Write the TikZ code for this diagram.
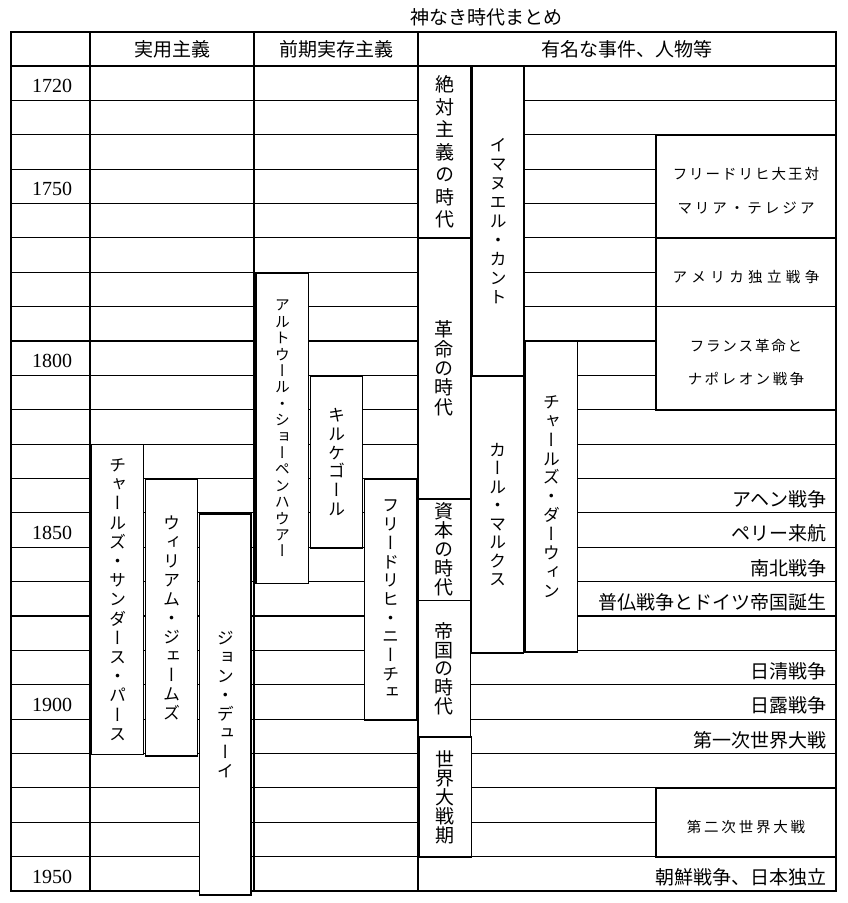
\documentclass[tikz,border=0pt]{standalone}
\usepackage{fontspec}
\newfontfamily\jp{Noto Sans CJK JP}
\newfontfamily\jpv[RawFeature=+vert]{Noto Sans CJK JP}
\newfontfamily\yrfont{Liberation Serif}
\makeatletter
% vertical stack of characters: #1 pitch (pt), #2 characters
\newcommand\vt[2]{\vbox{\baselineskip=#1pt\relax\lineskiplimit=-100pt\lineskip=0pt
  \@tfor\vc:=#2\do{\hbox to 1.2em{\hss\vc\hss}}}}
% letter-spaced horizontal text, lowered a little: #1 extra space (pt), #2 characters
\newcommand\ls[2]{\raisebox{-4.5pt}[\height][\depth]{\@tfor\lc:=#2\do{\lc\kern#1pt}\kern-#1pt}}
\makeatother
% box: name, x1, y1, x2, y2, font, content
\newcommand\vb[7]{\node[pbox, font={#6}, minimum width={(#4-#2)*1pt}, minimum height={(#5-#3)*1pt}] (#1) at ({(#2+#4)/2},{(#3+#5)/2}) {#7};}
\begin{document}
\begin{tikzpicture}[x=1pt,y=-1pt,
  gridline/.style={line width=1.2pt},
  pbox/.style={draw, fill=white, line width=1.2pt, inner sep=0pt, anchor=center, align=center},
  head/.style={font=\jp\fontsize{19}{19}\selectfont, inner sep=0pt},
  yearlbl/.style={font=\yrfont\fontsize{20}{20}\selectfont, inner sep=0pt},
  evt/.style={font=\jp\fontsize{19}{19}\selectfont, inner sep=0pt, anchor=east}]
\useasboundingbox (0,0) rectangle (847,903);
% title
\node[head] (title) at (486,17) {神なき時代まとめ};
% table frame and grid
\draw[gridline] (11,32) rectangle (836,891);
\foreach \k in {0,...,23} {\draw[gridline] (11,{66+34.375*\k}) -- (836,{66+34.375*\k});}
\foreach \xx in {90,254,418} {\draw[gridline] (\xx,32) -- (\xx,891);}
% header
\node[head] (h1) at (172,49.5) {実用主義};
\node[head] (h2) at (336,49.5) {前期実存主義};
\node[head] (h3) at (627,49.5) {有名な事件、人物等};
% years
\foreach \k/\yr in {0/1720,3/1750,8/1800,13/1850,18/1900,23/1950}
  {\node[yearlbl] (y\yr) at (52,{66+34.375*(\k+0.5)+3}) {\yr};}
% row events
\node[evt] (e1840) at (827,{66+34.375*12.5+3.5}) {アヘン戦争};
\node[evt] (e1850) at (827,{66+34.375*13.5+3.5}) {ペリー来航};
\node[evt] (e1860) at (827,{66+34.375*14.5+3.5}) {南北戦争};
\node[evt] (e1870) at (827,{66+34.375*15.5+3.5}) {普仏戦争とドイツ帝国誕生};
\node[evt] (e1890) at (827,{66+34.375*17.5+3.5}) {日清戦争};
\node[evt] (e1900) at (827,{66+34.375*18.5+3.5}) {日露戦争};
\node[evt] (e1910) at (827,{66+34.375*19.5+3.5}) {第一次世界大戦};
\node[evt] (e1950) at (827,{66+34.375*23.5+3.5}) {朝鮮戦争、日本独立};
% pragmatism
\vb{pierce}{91.5}{444.5}{143.5}{754.5}{\jpv\fontsize{17}{19}\selectfont}{\vt{19.2}{チャールズ・サンダース・パース}}
\vb{james}{145.5}{479}{197.5}{756}{\jpv\fontsize{17}{19}\selectfont}{\vt{19}{ウィリアム・ジェームズ}}
\vb{dewey}{199.5}{514}{251}{895}{\jpv\fontsize{17}{19}\selectfont}{\vt{19}{ジョン・デューイ}}
% early existentialism
\vb{schop}{256}{273.5}{308.5}{583.5}{\jpv\fontsize{15}{16}\selectfont}{\vt{16.4}{アルトウール・ショーペンハウアー}}
\vb{kierk}{310.5}{376}{362.5}{548}{\jpv\fontsize{17}{19}\selectfont}{\vt{18.8}{キルケゴール}}
\vb{nietz}{364.5}{479}{416.5}{720}{\jpv\fontsize{17}{19}\selectfont}{\vt{18.7}{フリードリヒ・ニーチェ}}
% periods
\vb{absol}{418.5}{66.5}{471}{238}{\jpv\fontsize{19}{19}\selectfont}{\vt{22.5}{絶対主義の時代}}
\vb{revol}{418}{238}{470.5}{498.5}{\jpv\fontsize{19}{19}\selectfont}{\vt{19.4}{革命の時代}}
\vb{capit}{418}{499}{470.5}{600.5}{\jpv\fontsize{19}{19}\selectfont}{\vt{19}{資本の時代}}
\vb{empir}{418}{600.5}{470.5}{737}{\jpv\fontsize{19}{19}\selectfont}{\vt{18.8}{帝国の時代}}
\vb{wwars}{419}{737}{471.5}{857}{\jpv\fontsize{19}{19}\selectfont}{\vt{19}{世界大戦期}}
% persons
\vb{kant}{472}{66.5}{524}{375.5}{\jpv\fontsize{17}{19}\selectfont}{\vt{19.1}{イマヌエル・カント}}
\vb{marx}{471.5}{376.5}{523.5}{653}{\jpv\fontsize{17}{19}\selectfont}{\vt{18.5}{カール・マルクス}}
\vb{darwin}{525}{341}{577.5}{652}{\jpv\fontsize{17}{19}\selectfont}{\vt{18.9}{チャールズ・ダーウィン}}
% event boxes
\vb{fried}{656}{135}{836}{238}{\jp\fontsize{14.5}{34}\selectfont}{\ls{2}{フリードリヒ大王対}\\\ls{3}{マリア・テレジア}}
\vb{amer}{656}{238}{836}{306.5}{\jp\fontsize{14.5}{19}\selectfont}{\ls{4.4}{アメリカ独立戦争}}
\vb{franc}{656}{306.5}{836}{410}{\jp\fontsize{14.5}{33}\selectfont}{\ls{1.8}{フランス革命と}\\\ls{2.5}{ナポレオン戦争}}
\vb{ww2}{656}{788}{836}{857}{\jp\fontsize{14.5}{19}\selectfont}{\ls{2.8}{第二次世界大戦}}
\end{tikzpicture}
\end{document}
